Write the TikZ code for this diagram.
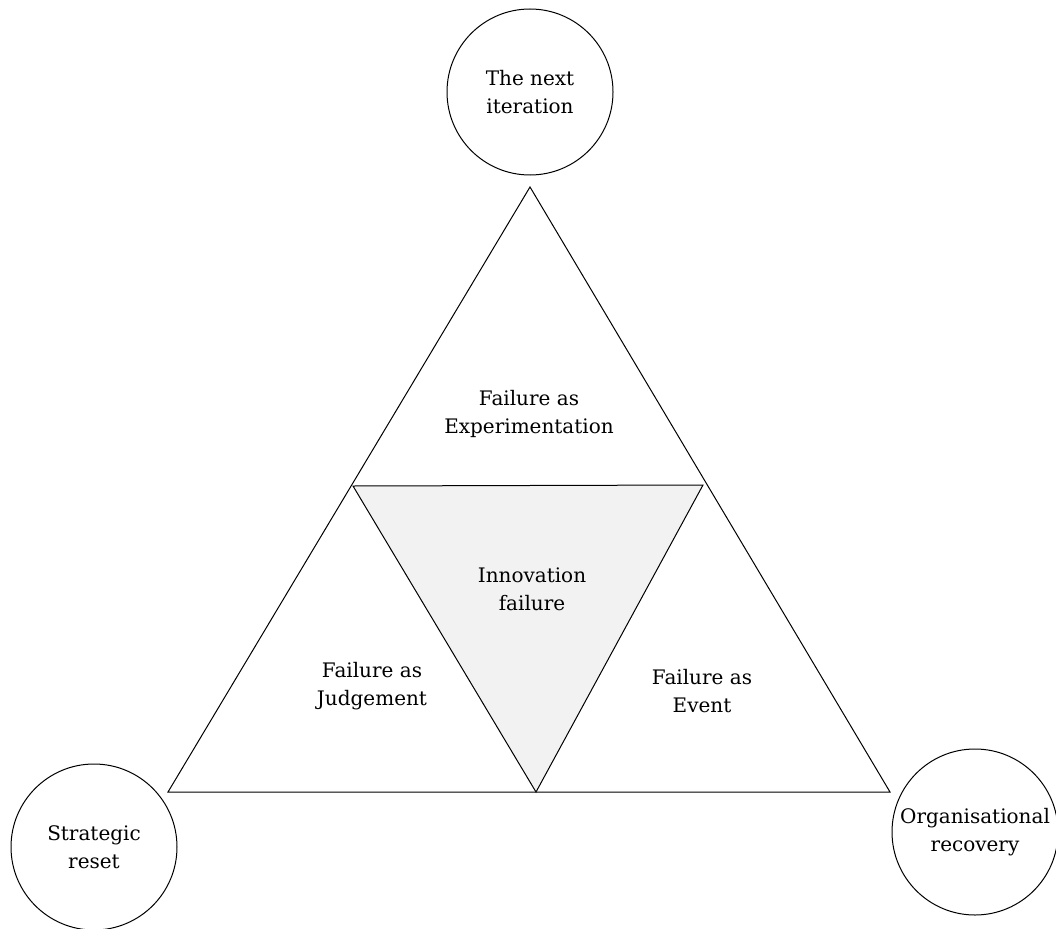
\documentclass[tikz,border=0pt]{standalone}
\usepackage{fontspec}
\setmainfont{DejaVu Serif}
\definecolor{corefill}{HTML}{F2F2F2}

\begin{document}
\begin{tikzpicture}[x=1pt, y=-1pt, line width=1pt,
  lbl/.style={align=center, font=\fontsize{20}{28}\selectfont},
  outcome/.style={draw, circle, minimum size=166pt, inner sep=0pt,
                  align=center, font=\fontsize{20}{28}\selectfont}]

  \useasboundingbox (0,0) rectangle (1056,928);

  % ---------- outer triangle ----------
  \coordinate (apex)  at (530,187);
  \coordinate (left)  at (168,792);
  \coordinate (right) at (890,792);
  \draw (apex) -- (left) -- (right) -- cycle;

  % ---------- inner (shaded) triangle ----------
  \coordinate (inL) at (353,486);
  \coordinate (inR) at (703,485);
  \coordinate (inB) at (536,792);
  \draw[fill=corefill] (inL) -- (inR) -- (inB) -- cycle;

  % ---------- labels inside ----------
  \node[lbl] (exper) at (529,414) {Failure as\\Experimentation};
  \node[lbl] (innov) at (532,589) {Innovation\\failure};
  \node[lbl] (judge) at (372,686) {Failure as\\Judgement};
  \node[lbl] (event) at (702,691) {Failure as\\Event};

  % ---------- outcome circles ----------
  \node[outcome] (iter)    at (530,92)  {The next\\iteration};
  \node[outcome] (reset)   at (94,847)  {Strategic\\reset};
  \node[outcome] (recover) at (975,832) {Organisational\\recovery};

\end{tikzpicture}
\end{document}
